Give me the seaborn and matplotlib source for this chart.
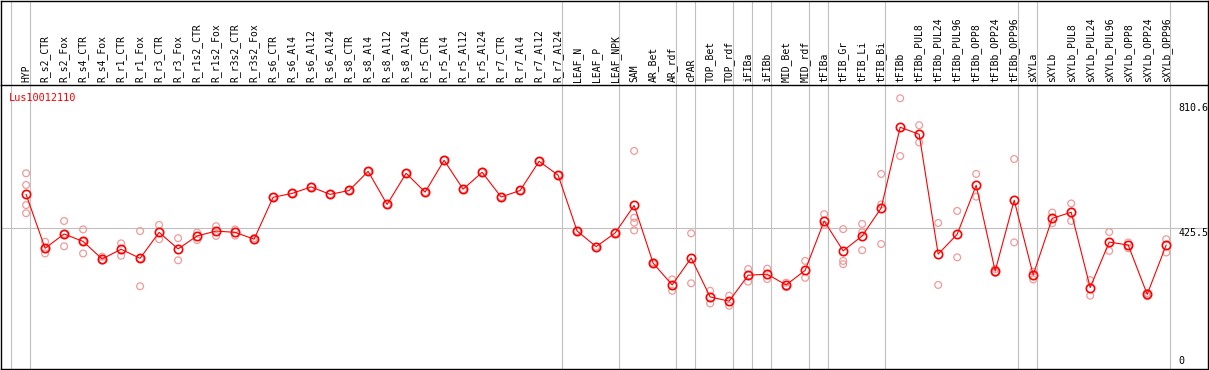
import numpy as np
import pandas as pd
import matplotlib
matplotlib.use("Agg")
import matplotlib.pyplot as plt
import matplotlib.transforms as mtransforms
import seaborn as sns

# ---------------- data ----------------
title = "Lus10012110"
categories = [
    "HYP", "R_s2_CTR", "R_s2_Fox", "R_s4_CTR", "R_s4_Fox", "R_r1_CTR", "R_r1_Fox",
    "R_r3_CTR", "R_r3_Fox", "R_r1s2_CTR", "R_r1s2_Fox", "R_r3s2_CTR", "R_r3s2_Fox",
    "R_s6_CTR", "R_s6_Al4", "R_s6_Al12", "R_s6_Al24", "R_s8_CTR", "R_s8_Al4",
    "R_s8_Al12", "R_s8_Al24", "R_r5_CTR", "R_r5_Al4", "R_r5_Al12", "R_r5_Al24",
    "R_r7_CTR", "R_r7_Al4", "R_r7_Al12", "R_r7_Al24", "LEAF_N", "LEAF_P", "LEAF_NPK",
    "SAM", "AR_Bet", "AR_rdf", "cPAR", "TOP_Bet", "TOP_rdf", "iFIBa", "iFIBb",
    "MID_Bet", "MID_rdf", "tFIBa", "tFIB_Gr", "tFIB_Li", "tFIB_Bi", "tFIBb",
    "tFIBb_PUL8", "tFIBb_PUL24", "tFIBb_PUL96", "tFIBb_OPP8", "tFIBb_OPP24",
    "tFIBb_OPP96", "sXYLa", "sXYLb", "sXYLb_PUL8", "sXYLb_PUL24", "sXYLb_PUL96",
    "sXYLb_OPP8", "sXYLb_OPP24", "sXYLb_OPP96",
]
group_sizes = [1, 28, 3, 3, 1, 2, 1, 1, 2, 1, 3, 7, 1, 7]

means = [
    530, 364, 408, 385, 331, 361, 333, 413, 362, 402, 417, 413, 392,
    521, 533, 553, 530, 542, 601, 499, 595, 537, 635, 546, 598,
    522, 542, 632, 589, 417, 369, 411,
    496, 318, 251, 334, 214, 201, 281, 284,
    251, 296, 448, 356, 402, 488, 737,
    715, 346, 407, 558, 294, 512, 282, 456,
    475, 243, 383, 374, 222, 374,
]

replicates = [
    [595, 559, 497, 472], [384, 362, 348], [448, 408, 370], [422, 385, 348],
    [338, 326], [379, 341], [417, 333, 247], [436, 392], [395, 327],
    [412, 389], [432, 402], [422, 403], [395, 389],
    [521], [533], [553], [530], [542], [601], [499], [595], [537], [635],
    [546], [598], [522], [542], [632], [589], [417], [369], [411],
    [664, 458, 443, 419], [320, 316], [268, 233], [410, 256], [233, 194],
    [218, 187], [300, 261], [301, 269], [258, 244],
    [325, 273], [469, 436], [423, 325, 315], [439, 413, 358], [593, 499, 377],
    [826, 648], [743, 690], [442, 251], [479, 336], [593, 523], [300, 288],
    [639, 382], [292, 268], [474, 441], [502, 448], [266, 218], [414, 356],
    [382, 364], [226, 216], [392, 351],
]

axis_values = [0, 425.5, 810.6]
axis_labels = ["0", "425.5", "810.6"]

# ---------------- build frames ----------------
idx = np.arange(len(categories))
mean_df = pd.DataFrame({"pos": idx, "value": means})
rep_rows = [(i, v) for i, reps in enumerate(replicates) for v in reps]
rep_df = pd.DataFrame(rep_rows, columns=["pos", "value"])

# ---------------- figure ----------------
sns.set_style("white")
plt.rcParams["font.family"] = ["DejaVu Sans Mono", "DejaVu Sans"]

W, H = 1209, 370
fig = plt.figure(figsize=(W / 100, H / 100), dpi=100)

header_px = 85
left_px, right_px = 1, 1208
ax_left = left_px / W
ax_w = (right_px - left_px) / W
hdr = fig.add_axes([ax_left, (H - header_px) / H, ax_w, (header_px - 0.5) / H])
ax = fig.add_axes([ax_left, 1.0 / H, ax_w, (H - header_px - 1) / H])

xlim = (-1.32, 62.2)
for a in (hdr, ax):
    a.set_xlim(*xlim)
    a.set_facecolor("white")
    for s in a.spines.values():
        s.set_color("black")
        s.set_linewidth(1.0)
hdr.set_ylim(0, 1)
hdr.set_xticks([])
hdr.set_yticks([])
hdr.spines["bottom"].set_visible(False)

# group separators
bounds = np.concatenate([[0], np.cumsum(group_sizes)]) - 0.8
for a in (hdr, ax):
    for b in bounds:
        a.axvline(b, color="#c0c0c0", linewidth=0.8, zorder=0)

ax.set_ylim(-8, 867)
ax.axhline(axis_values[1], color="#c0c0c0", linewidth=0.8, zorder=0)

# replicate points
sns.scatterplot(data=rep_df, x="pos", y="value", ax=ax, marker="o",
                facecolors="none", edgecolor="#f09a9a", linewidth=0.9,
                s=24, zorder=2, legend=False)
# mean line
sns.lineplot(data=mean_df, x="pos", y="value", ax=ax, color="#ff0000",
             linewidth=0.8, marker="o", markersize=6.0, markerfacecolor="none",
             markeredgecolor="#ff0000", markeredgewidth=1.2, zorder=3)

# category labels on top (in header)
ax.xaxis.set_ticks_position("top")
ax.set_xticks(idx)
ax.set_xticklabels(categories, rotation=90, fontsize=7.0, color="black")
ax.tick_params(axis="x", length=0, pad=2.2)
ax.set_yticks([])
ax.set_xlabel("")
ax.set_ylabel("")

# right-side value labels
trans = mtransforms.blended_transform_factory(ax.transAxes, ax.transData)
for v, lab in zip(axis_values, axis_labels):
    va = "bottom" if v == min(axis_values) else "top"
    ax.text(0.9755, v, lab, transform=trans, ha="left", va=va,
            fontsize=7.2, color="black")

ax.text(0.0065, 0.972, title, transform=ax.transAxes, ha="left", va="top",
        fontsize=7.4, color="#ff0000")

fig.savefig("out.png", dpi=100)
